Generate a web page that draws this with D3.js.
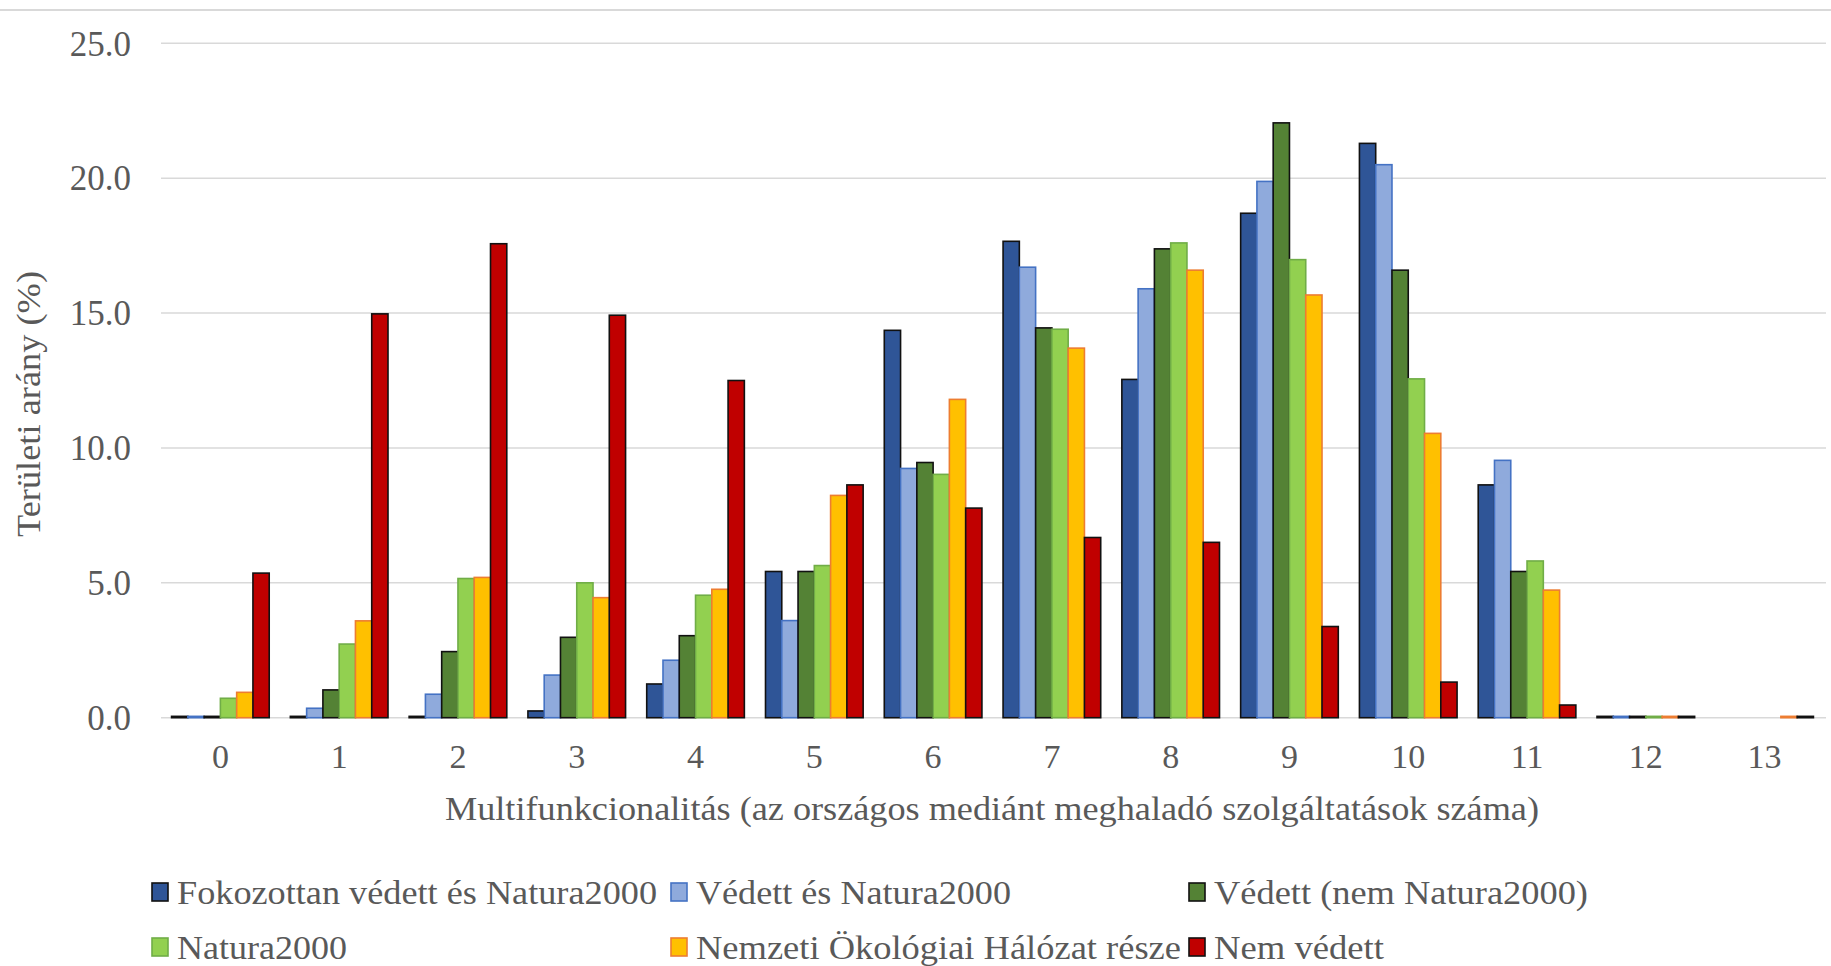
<!DOCTYPE html>
<html>
<head>
<meta charset="utf-8">
<script src="https://cdn.jsdelivr.net/npm/d3@7"></script>
<style>
  body { margin: 0; background: #fff; }
  text { font-family: "Liberation Serif", "Times New Roman", serif; fill: #595959; }
</style>
</head>
<body>
<svg id="chart" width="1831" height="966"></svg>
<script>
const width = 1831,
    height = 966;

// categories (number of services above the national median)
const categories = [0, 1, 2, 3, 4, 5, 6, 7, 8, 9, 10, 11, 12, 13];
const yTicks = [0, 5, 10, 15, 20, 25];

const seriesNames = [
    'Fokozottan védett és Natura2000',
    'Védett és Natura2000',
    'Védett (nem Natura2000)',
    'Natura2000',
    'Nemzeti Ökológiai Hálózat része',
    'Nem védett'
];
const fills   = ['#2f5597', '#8faadc', '#548235', '#92d050', '#ffc000', '#c00000'];
const strokes = ['#111111', '#4472c4', '#111111', '#70ad47', '#ed7d31', '#111111'];

// values, % of area
const fokozottan = [0.05, 0.05, 0.05, 0.25, 1.25, 5.42, 14.36, 17.66, 12.54, 18.7, 21.29, 8.63, 0.05, 0];
const vedettN2k  = [0.05, 0.35, 0.87, 1.58, 2.13, 3.6, 9.24, 16.7, 15.9, 19.88, 20.5, 9.54, 0.05, 0];
const vedettNem  = [0.05, 1.03, 2.45, 2.98, 3.04, 5.42, 9.46, 14.45, 17.38, 22.05, 16.59, 5.42, 0.05, 0];
const natura     = [0.72, 2.73, 5.16, 5.0, 4.54, 5.64, 9.02, 14.4, 17.6, 16.98, 12.56, 5.81, 0.05, 0];
const nemzeti    = [0.94, 3.59, 5.2, 4.45, 4.76, 8.24, 11.8, 13.7, 16.59, 15.67, 10.54, 4.73, 0.05, 0.05];
const nemVedett  = [5.36, 14.97, 17.57, 14.92, 12.5, 8.63, 7.77, 6.68, 6.5, 3.38, 1.32, 0.47, 0.05, 0.05];

const seriesValues = [fokozottan, vedettN2k, vedettNem, natura, nemzeti, nemVedett];

// widths the (stretched) legend texts take in the original
const legendWidths = [480, 315, 374, 170, 485, 170];

const svg = d3.select('#chart');

const x = d3.scaleBand()
    .domain(categories)
    .range([161, 1824])
    .paddingInner(0.178)
    .paddingOuter(0.089);

const xInner = d3.scaleBand()
    .domain(d3.range(seriesNames.length))
    .range([0, x.bandwidth()]);

const y = d3.scaleLinear().domain([0, 25]).range([717.7, 43.3]);

// top border of chart area
svg.append('line')
    .attr('x1', 0).attr('x2', width)
    .attr('y1', 10).attr('y2', 10)
    .attr('stroke', '#d9d9d9').attr('stroke-width', 2);

// gridlines
svg.append('g')
    .selectAll('line')
    .data(yTicks)
    .join('line')
    .attr('x1', 161).attr('x2', 1826)
    .attr('y1', d => y(d)).attr('y2', d => y(d))
    .attr('stroke', '#d9d9d9')
    .attr('stroke-width', 1.5);

// y axis labels
svg.append('g')
    .selectAll('text')
    .data(yTicks)
    .join('text')
    .attr('x', 131)
    .attr('y', d => y(d))
    .attr('dy', '0.35em')
    .attr('text-anchor', 'end')
    .style('font-size', '35px')
    .text(d => d.toFixed(1));

// bars
const groups = svg.append('g')
    .selectAll('g')
    .data(categories)
    .join('g')
    .attr('transform', c => `translate(${x(c)},0)`);

groups.selectAll('rect')
    .data((c, ci) => seriesValues.map((vals, si) => ({si, v: vals[ci]})))
    .join('rect')
    .filter(d => d.v > 0)
    .attr('x', d => xInner(d.si))
    .attr('width', xInner.bandwidth())
    .attr('y', d => y(d.v))
    .attr('height', d => y(0) - y(d.v))
    .attr('fill', d => fills[d.si])
    .attr('stroke', d => strokes[d.si])
    .attr('stroke-width', 1.6);

// x axis labels
svg.append('g')
    .selectAll('text')
    .data(categories)
    .join('text')
    .attr('x', c => x(c) + x.bandwidth() / 2)
    .attr('y', 768)
    .attr('text-anchor', 'middle')
    .style('font-size', '34px')
    .text(c => c);

// axis titles
svg.append('text')
    .attr('x', 445)
    .attr('y', 820)
    .attr('textLength', 1094)
    .attr('lengthAdjust', 'spacingAndGlyphs')
    .style('font-size', '34px')
    .text('Multifunkcionalitás (az országos mediánt meghaladó szolgáltatások száma)');

svg.append('text')
    .attr('transform', 'translate(40,537) rotate(-90)')
    .attr('textLength', 266)
    .attr('lengthAdjust', 'spacingAndGlyphs')
    .style('font-size', '34px')
    .text('Területi arány (%)');

// legend
const legendCols = [152, 671, 1189];
const legendRows = [892, 947];
const legend = svg.append('g')
    .selectAll('g')
    .data(seriesNames)
    .join('g')
    .attr('transform', (d, i) => `translate(${legendCols[i % 3]},${legendRows[Math.floor(i / 3)]})`);

legend.append('rect')
    .attr('x', 0).attr('y', -9)
    .attr('width', 16).attr('height', 18)
    .attr('fill', (d, i) => fills[i])
    .attr('stroke', (d, i) => strokes[i])
    .attr('stroke-width', 1.6);

legend.append('text')
    .attr('x', 25)
    .attr('y', 0)
    .attr('dy', '0.35em')
    .attr('textLength', (d, i) => legendWidths[i])
    .attr('lengthAdjust', 'spacingAndGlyphs')
    .style('font-size', '34px')
    .text(d => d);
</script>
</body>
</html>
